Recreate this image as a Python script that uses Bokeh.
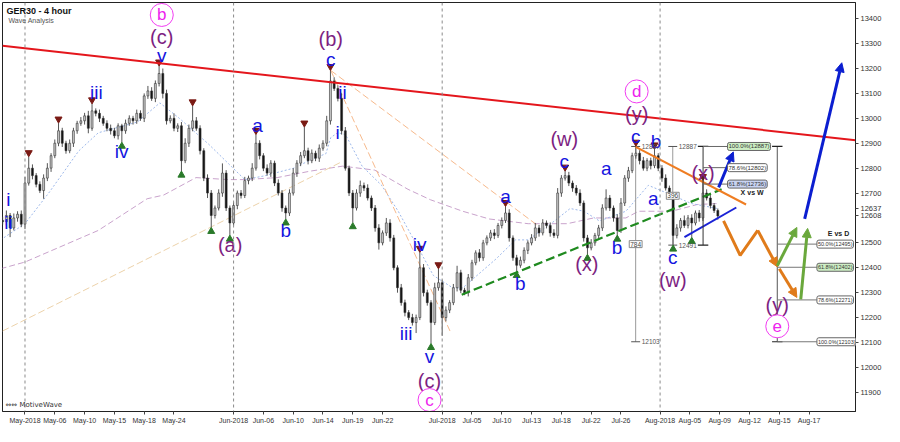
from bokeh.plotting import figure
from bokeh.models import (ColumnDataSource, FixedTicker, Label, Arrow, NormalHead, Span, Range1d)
from bokeh.embed import file_html
from bokeh.resources import INLINE
from bokeh.core.properties import value

FONT = "Liberation Sans"

# ---------------- axis data ----------------
tick_pos = [0, 4, 8, 12, 16, 20, 28, 32, 36, 40, 44, 48, 56, 60, 64, 68, 72, 76, 80,
            85.25, 89.25, 93.25, 97.25, 101.25, 105.25]
tick_labels = ["May-2018", "May-06", "May-10", "May-15", "May-18", "May-24", "Jun-2018", "Jun-06",
               "Jun-10", "Jun-14", "Jun-19", "Jun-22", "Jul-2018", "Jul-05", "Jul-10", "Jul-13",
               "Jul-18", "Jul-22", "Jul-26", "Aug-2018", "Aug-05", "Aug-09", "Aug-12", "Aug-15", "Aug-17"]
month_starts = [0, 28, 56, 85.25]
price_ticks = [11900, 12000, 12100, 12200, 12300, 12400, 12500, 12700, 12800, 12900,
               13000, 13100, 13200, 13300, 13400]
x_lo, x_hi = -3.02, 111.48
y_lo, y_hi = 11823, 13465

# ---------------- candles (4h bars, half-day index) ----------------
bar_start, bar_step = -3.0, 0.5
first_open = 12590
closes = [
    12585, 12610, 12560, 12600, 12615, 12575, 12740, 12800, 12770, 12735,
    12710, 12760, 12800, 12850, 12900, 12950, 12900, 12870, 12900, 12950,
    12980, 12990, 13010, 12960, 13030, 13020, 13000, 12980, 12960, 12950,
    12930, 12970, 12950, 12980, 13000, 12990, 13020, 13000, 13090, 13110,
    13080, 13140, 13180, 13100, 12990, 13000, 12960, 12970, 12830, 12900,
    12960, 12990, 12960, 12870, 12760, 12700, 12610, 12640, 12700, 12780,
    12640, 12580, 12650, 12700, 12690, 12750, 12760, 12800, 12900, 12850,
    12800, 12780, 12820, 12740, 12700, 12640, 12620, 12700, 12780, 12820,
    12850, 12870, 12830, 12860, 12840, 12880, 12900, 12990, 13150, 13120,
    13080, 12950, 12800, 12700, 12640, 12700, 12730, 12720, 12680, 12640,
    12560, 12500, 12540, 12580, 12520, 12400, 12320, 12260, 12220, 12200,
    12180, 12200, 12400, 12300, 12260, 12180, 12320, 12340, 12200, 12230,
    12260, 12320, 12380, 12310, 12300, 12360, 12420, 12460, 12440, 12500,
    12520, 12540, 12530, 12570, 12590, 12620, 12520, 12440, 12410, 12430,
    12470, 12500, 12520, 12560, 12540, 12580, 12570, 12540, 12530, 12700,
    12760, 12770, 12740, 12720, 12700, 12660, 12520, 12480, 12500, 12530,
    12560, 12640, 12680, 12640, 12600, 12550, 12660, 12760, 12790, 12850,
    12860, 12830, 12800, 12830, 12810, 12850, 12800, 12760, 12720, 12690,
    12530, 12560, 12590, 12570, 12600, 12580, 12620, 12600, 12700, 12680,
    12650, 12630, 12608]
wick_hi = [
    15, 20, 10, 18, 12, 15, 25, 46, 15, 10,
    12, 15, 20, 10, 15, 31, 12, 10, 15, 12,
    10, 15, 12, 20, 28, 10, 15, 10, 12, 15,
    12, 10, 8, 15, 12, 10, 15, 12, 10, 20,
    15, 12, 30, 20, 15, 12, 20, 10, 15, 20,
    15, 60, 15, 12, 10, 15, 12, 10, 15, 39,
    12, 10, 15, 10, 12, 15, 10, 20, 35, 12,
    10, 15, 12, 10, 15, 12, 10, 15, 20, 12,
    15, 95, 12, 15, 10, 15, 12, 20, 42, 15,
    12, 20, 15, 10, 12, 15, 20, 12, 15, 10,
    12, 15, 10, 20, 15, 12, 10, 15, 12, 10,
    15, 12, 62, 15, 12, 10, 20, 56, 12, 15,
    10, 15, 28, 12, 10, 15, 12, 10, 15, 12,
    10, 12, 15, 10, 12, 26, 15, 10, 12, 15,
    12, 10, 15, 20, 12, 15, 10, 12, 15, 20,
    12, 18, 15, 10, 12, 15, 10, 12, 15, 10,
    12, 15, 35, 12, 10, 15, 20, 12, 15, 12,
    28, 12, 15, 10, 12, 27, 10, 12, 15, 10,
    12, 15, 10, 20, 12, 15, 10, 12, 50, 15,
    12, 10, 8]
wick_lo = [
    12, 15, 37, 10, 15, 12, 20, 10, 15, 12,
    10, 33, 12, 15, 10, 12, 15, 12, 10, 15,
    12, 10, 15, 20, 10, 12, 15, 10, 12, 15,
    10, 15, 46, 12, 10, 15, 12, 10, 15, 12,
    10, 15, 12, 20, 15, 10, 12, 15, 42, 10,
    15, 12, 10, 15, 12, 20, 48, 12, 10, 15,
    12, 49, 10, 15, 12, 10, 15, 12, 10, 15,
    12, 10, 15, 12, 10, 15, 24, 12, 10, 15,
    12, 10, 15, 10, 12, 15, 10, 12, 15, 10,
    12, 15, 10, 12, 59, 10, 15, 12, 10, 12,
    15, 27, 10, 12, 15, 10, 20, 12, 15, 10,
    12, 42, 10, 15, 12, 84, 10, 12, 73, 15,
    12, 10, 15, 12, 10, 15, 12, 10, 15, 12,
    10, 12, 15, 10, 12, 10, 15, 12, 25, 10,
    12, 15, 10, 12, 15, 10, 12, 15, 10, 12,
    15, 10, 12, 15, 10, 12, 15, 26, 10, 12,
    15, 12, 10, 12, 15, 19, 10, 12, 15, 10,
    12, 15, 10, 12, 15, 10, 12, 15, 10, 12,
    39, 12, 15, 10, 12, 58, 10, 15, 12, 10,
    12, 10, 15]

# ---------------- moving averages ----------------
ma_fast_x = [-3.28, 0, 3.28, 7.21, 9.84, 15.08, 18.10, 20.72, 24.66, 27.28, 29.51, 32.13, 36.07,
             38.69, 40.39, 41.05, 41.97, 43.02, 45.25, 47.87, 50.10, 52.20, 54.82, 57.44, 58.75,
             63.21, 65.84, 67.54, 71.08, 73.18, 75.02, 77.11, 80.66, 83.67, 86.82, 89.44, 91.54, 93.11]
ma_fast_y = [12512, 12577, 12704, 12869, 12942, 12985, 13062, 13000, 12896, 12819, 12754, 12769, 12800,
             12838, 12858, 12923, 12942, 12935, 12808, 12731, 12627, 12512, 12369, 12319, 12319,
             12435, 12512, 12512, 12588, 12638, 12627, 12588, 12627, 12731, 12692, 12658, 12646, 12637]
ma_slow_x = [-3.28, 0, 9.84, 16.39, 18.62, 22.95, 27.28, 29.51, 33.84, 38.30, 42.62, 46.95, 51.41,
             54.43, 58.75, 62.30, 67.54, 72.79, 76.33, 80.66, 82.36, 86.82, 90.23, 93.11]
ma_slow_y = [12396, 12423, 12550, 12677, 12692, 12762, 12754, 12754, 12762, 12788, 12808, 12792, 12715,
             12673, 12627, 12596, 12577, 12577, 12600, 12600, 12627, 12627, 12654, 12658]

# ---------------- trend lines ----------------
red_x, red_y = [x_lo, x_hi], [13291, 12912]
tan_x, tan_y = [x_lo, 42.62], [12146, 12827]
org_d1_x, org_d1_y = [41.05, 57.05], [13192, 12146]
org_d2_x, org_d2_y = [41.05, 68.85], [13192, 12569]
grn_x, grn_y = [58.62, 93.51], [12292, 12715]
org_x, org_y = [81.97, 96.79], [12885, 12654]
blu_x, blu_y = [88.52, 95.48], [12523, 12642]

# projections
blue_arr = dict(x0=[93.11, 104.66], y0=[12723, 12596], x1=[95.08, 109.64], y1=[12865, 13223])
green_arr = dict(x0=[100.98, 104.13], y0=[12408, 12273], x1=[103.61, 105.05], y1=[12562, 12558])
orange_zig_x, orange_zig_y = [93.77, 96.0, 98.36], [12588, 12450, 12550]
orange_arr = dict(x0=[98.36, 101.25], y0=[12550, 12396], x1=[100.98, 103.61], y1=[12404, 12281])

# markers
red_mark_x = [0.5, 4.5, 9.0, 18.0, 22.5, 31.0, 37.5, 41.0, 53.0, 55.5, 64.5, 72.5, 82.0, 84.5, 91.0]
red_mark_y = [12862, 12997, 13074, 13226, 13066, 12951, 12981, 13208, 12478, 12412, 12662, 12804,
              12904, 12893, 12766]
grn_mark_x = [13.0, 21.0, 25.0, 27.5, 35.0, 44.0, 54.5, 66.0, 75.5, 79.5, 87.0, 89.5]
grn_mark_y = [12888, 12772, 12546, 12515, 12580, 12565, 12080, 12369, 12438, 12515, 12475, 12506]

# wave labels
blue_txt = ["v", "iii", "iv", "i", "ii", "a", "b", "c", "ii", "i", "iv", "iii", "v", "a", "b", "c",
            "a", "b", "c", "b", "a", "c"]
blue_x = [18.36, 9.57, 12.98, -2.23, -2.23, 31.21, 35.02, 41.05, 42.62, 41.97, 52.98, 51.15, 54.30,
          64.52, 66.49, 72.39, 78.03, 79.48, 81.97, 84.72, 84.33, 86.95]
blue_y = [13254, 13104, 12865, 12673, 12581, 12973, 12550, 13235, 13104, 12942, 12492, 12138, 12042,
          12685, 12338, 12827, 12800, 12481, 12927, 12908, 12677, 12442]
purple_txt = ["(c)", "(a)", "(b)", "(c)", "(w)", "(x)", "(y)", "(w)", "(x)", "(y)"]
purple_x = [18.36, 27.54, 41.05, 54.30, 72.39, 75.41, 82.1, 86.95, 91.02, 100.98]
purple_y = [13327, 12492, 13319, 11946, 12915, 12415, 13019, 12350, 12781, 12250]
pink_txt = ["b", "c", "d", "e"]
pink_x = [18.36, 54.30, 82.1, 100.98]
pink_y = [13415, 11869, 13108, 12165]

# fib tools
xw_x0, xw_x1 = 91.02, 94.3
xw_top, xw_bot = 12887, 12491
xw_levels = [12887, 12802, 12736]
xw_texts = ["100.0%(12887)", "78.6%(12802)", "61.8%(12736)"]
xw_fills = ["#cdeec4", "#ffffff", "#c9d3f2"]
ed_x0, ed_x1 = 100.98, 106.3
ed_top, ed_bot = 12887, 12103
ed_levels = [12495, 12402, 12271, 12103]
ed_texts = ["50.0%(12495)", "61.8%(12402)", "78.6%(12271)", "100.0%(12103)"]
ed_fills = ["#ffffff", "#cdeec4", "#ffffff", "#ffffff"]
meas_x = [81.97, 86.95]
meas_top = [12887, 12887]
meas_bot = [12103, 12491]
meas_txt = ["784", "396"]

last_ma, last_price = 12637, 12608

# ---------------- figure ----------------
p = figure(width=884, height=426, x_range=Range1d(x_lo, x_hi), y_range=Range1d(y_lo, y_hi),
           y_axis_location="right", output_backend="svg", toolbar_location=None,
           min_border_left=2, min_border_top=2, min_border_right=0, min_border_bottom=0)
p.xgrid.visible = False
p.ygrid.visible = False
p.outline_line_color = "#222222"
p.background_fill_color = "white"
p.border_fill_color = "white"

p.xaxis.ticker = FixedTicker(ticks=tick_pos)
p.xaxis.major_label_overrides = {float(t): l for t, l in zip(tick_pos, tick_labels)}
p.yaxis.ticker = FixedTicker(ticks=price_ticks + [last_price, last_ma])
for ax in (p.xaxis, p.yaxis):
    ax.major_label_text_font = FONT
    ax.major_label_text_color = "#333333"
    ax.minor_tick_line_color = None
    ax.major_tick_in = 0
    ax.major_tick_out = 3
    ax.major_label_standoff = 2
    ax.axis_line_color = "#222222"
    ax.major_tick_line_color = "#444444"
    ax.axis_label_standoff = 0
p.xaxis.major_label_text_font_size = "7px"
p.yaxis.major_label_text_font_size = "7.5px"

for m in month_starts:
    p.add_layout(Span(location=m, dimension="height", line_color="#8a8a8a", line_dash="3 3", line_width=1))

# moving averages & thin guide lines
p.line(ma_slow_x, ma_slow_y, line_color="#c9a3cc", line_dash="6 3", line_width=1)
p.line(ma_fast_x, ma_fast_y, line_color="#9db8ea", line_dash="2 2", line_width=1)
p.line(tan_x, tan_y, line_color="#ecd2aa", line_dash="7 3", line_width=1)
p.line(org_d1_x, org_d1_y, line_color="#f6b98c", line_dash="7 3", line_width=1)
p.line(org_d2_x, org_d2_y, line_color="#f6b98c", line_dash="7 3", line_width=1)

# measuring lines
for mx, mt, mb in zip(meas_x, meas_top, meas_bot):
    p.segment([mx], [mt], [mx], [mb], line_color="#9a9a9a", line_width=1)
    p.segment([mx - 0.6, mx - 0.6], [mt, mb], [mx + 0.6, mx + 0.6], [mt, mb], line_color="#555555", line_width=1)

# candles
bar_x = [bar_start + bar_step * i for i in range(len(closes))]
opens = [first_open] + closes[:-1]
tops = [max(o, c) for o, c in zip(opens, closes)]
bots = [min(o, c) for o, c in zip(opens, closes)]
highs = [t + w for t, w in zip(tops, wick_hi)]
lows = [b - w for b, w in zip(bots, wick_lo)]
fills = ["#c8c8c8" if c >= o else "#111111" for o, c in zip(opens, closes)]
src = ColumnDataSource(dict(x=bar_x, h=highs, l=lows, top=tops, bot=bots, fill=fills))
p.segment("x", "h", "x", "l", source=src, line_color="#555555", line_width=1)
p.vbar(x="x", width=0.26, top="top", bottom="bot", fill_color="fill", line_color="#333333",
       line_width=0.6, source=src)

# markers
p.scatter(red_mark_x, red_mark_y, marker="inverted_triangle", size=7, fill_color="#7a1a14", line_color="#7a1a14")
p.scatter(grn_mark_x, grn_mark_y, marker="triangle", size=7, fill_color="#2a7a2a", line_color="#2a7a2a")

# main trend lines
p.line(red_x, red_y, line_color="#e4161c", line_width=2)
p.line(grn_x, grn_y, line_color="#1f8a1f", line_width=2.2, line_dash="9 4")
p.line(org_x, org_y, line_color="#ef7d22", line_width=2)
p.line(blu_x, blu_y, line_color="#1a22d6", line_width=2)

# projection arrows
p.line(orange_zig_x, orange_zig_y, line_color="#e07b1a", line_width=3)
for spec, col in ((orange_arr, "#e07b1a"), (green_arr, "#6aa83c"), (blue_arr, "#0b1ed0")):
    p.add_layout(Arrow(end=NormalHead(size=9, fill_color=col, line_color=col), source=ColumnDataSource(spec),
                       x_start="x0", y_start="y0", x_end="x1", y_end="y1", line_color=col, line_width=3))

# fib X vs W
p.segment([xw_x0], [xw_top], [xw_x0], [xw_bot], line_color="#333333", line_width=1)
p.segment([xw_x0 - 0.7, xw_x0 - 0.7], [xw_top, xw_bot], [xw_x0 + 0.7, xw_x0 + 0.7], [xw_top, xw_bot],
          line_color="#222222", line_width=1.2)
p.segment([xw_x0] * 3, xw_levels, [xw_x1] * 3, xw_levels, line_color="#666666", line_width=1)
for lv, tx, fc in zip(xw_levels, xw_texts, xw_fills):
    p.add_layout(Label(x=xw_x1, y=lv, text=tx, text_font=FONT, text_font_size="6px", text_color="#333333",
                       text_baseline="middle", background_fill_color=fc, border_line_color="#666666",
                       padding=1, border_radius=2, level="overlay"))
p.add_layout(Label(x=97.6, y=12704, text="X vs W", text_font=FONT, text_font_size="7px", text_font_style="bold",
                   text_color="#222222", text_align="center", text_baseline="middle"))

# fib E vs D
p.segment([ed_x0], [ed_top], [ed_x0], [ed_bot], line_color="#555555", line_width=1)
p.segment([ed_x0 - 0.7, ed_x0 - 0.7], [ed_top, ed_bot], [ed_x0 + 0.7, ed_x0 + 0.7], [ed_top, ed_bot],
          line_color="#222222", line_width=1.2)
p.segment([ed_x0] * 4, ed_levels, [ed_x1] * 4, ed_levels, line_color="#777777", line_width=1)
for lv, tx, fc in zip(ed_levels, ed_texts, ed_fills):
    p.add_layout(Label(x=ed_x1, y=lv, text=tx, text_font=FONT, text_font_size="5.5px", text_color="#333333",
                       text_baseline="middle", background_fill_color=fc, border_line_color="#666666",
                       padding=1, border_radius=2, level="overlay"))
p.add_layout(Label(x=109.2, y=12538, text="E vs D", text_font=FONT, text_font_size="7px", text_font_style="bold",
                   text_color="#222222", text_align="center", text_baseline="middle"))

# measure labels
for mx, mt, mb, tx in zip(meas_x, meas_top, meas_bot, meas_txt):
    p.add_layout(Label(x=mx, y=(mt + mb) / 2, text=tx, text_font=FONT, text_font_size="6.5px",
                       text_color="#444444", text_align="center", text_baseline="middle",
                       background_fill_color="white", border_line_color="#888888", padding=1))
    p.add_layout(Label(x=mx, y=mt, x_offset=6, text=str(mt), text_font=FONT, text_font_size="6.5px",
                       text_color="#555555", text_baseline="middle"))
    p.add_layout(Label(x=mx, y=mb, x_offset=6, text=str(mb), text_font=FONT, text_font_size="6.5px",
                       text_color="#555555", text_baseline="middle"))

# wave labels
p.text(blue_x, blue_y, text=blue_txt, text_font=value(FONT), text_font_size="19px", text_color="#1515e0",
       text_align="center", text_baseline="middle")
p.text(purple_x, purple_y, text=purple_txt, text_font=value(FONT), text_font_size="20px", text_color="#7d1f82",
       text_align="center", text_baseline="middle")
p.scatter(pink_x, pink_y, marker="circle", size=23, fill_color="white", line_color="#f23cf2", line_width=1)
p.text(pink_x, pink_y, text=pink_txt, text_font=value(FONT), text_font_size="17px", text_color="#ee22ee",
       text_align="center", text_baseline="middle")

# title & branding
p.add_layout(Label(x=x_lo, y=y_hi, x_offset=4, y_offset=-3, text="GER30 - 4 hour", text_font=FONT,
                   text_font_size="9px", text_font_style="bold", text_color="#111111", text_baseline="top"))
p.add_layout(Label(x=x_lo, y=y_hi, x_offset=6, y_offset=-14, text="Wave Analysis", text_font=FONT,
                   text_font_size="7px", text_color="#555555", text_baseline="top"))
p.add_layout(Label(x=x_lo, y=y_lo, x_offset=3, y_offset=3, text="⇔⇔ MotiveWave", text_font="DejaVu Sans",
                   text_font_size="7px", text_color="#333333", text_baseline="bottom"))

open("out.html", "w").write(file_html(p, INLINE))
